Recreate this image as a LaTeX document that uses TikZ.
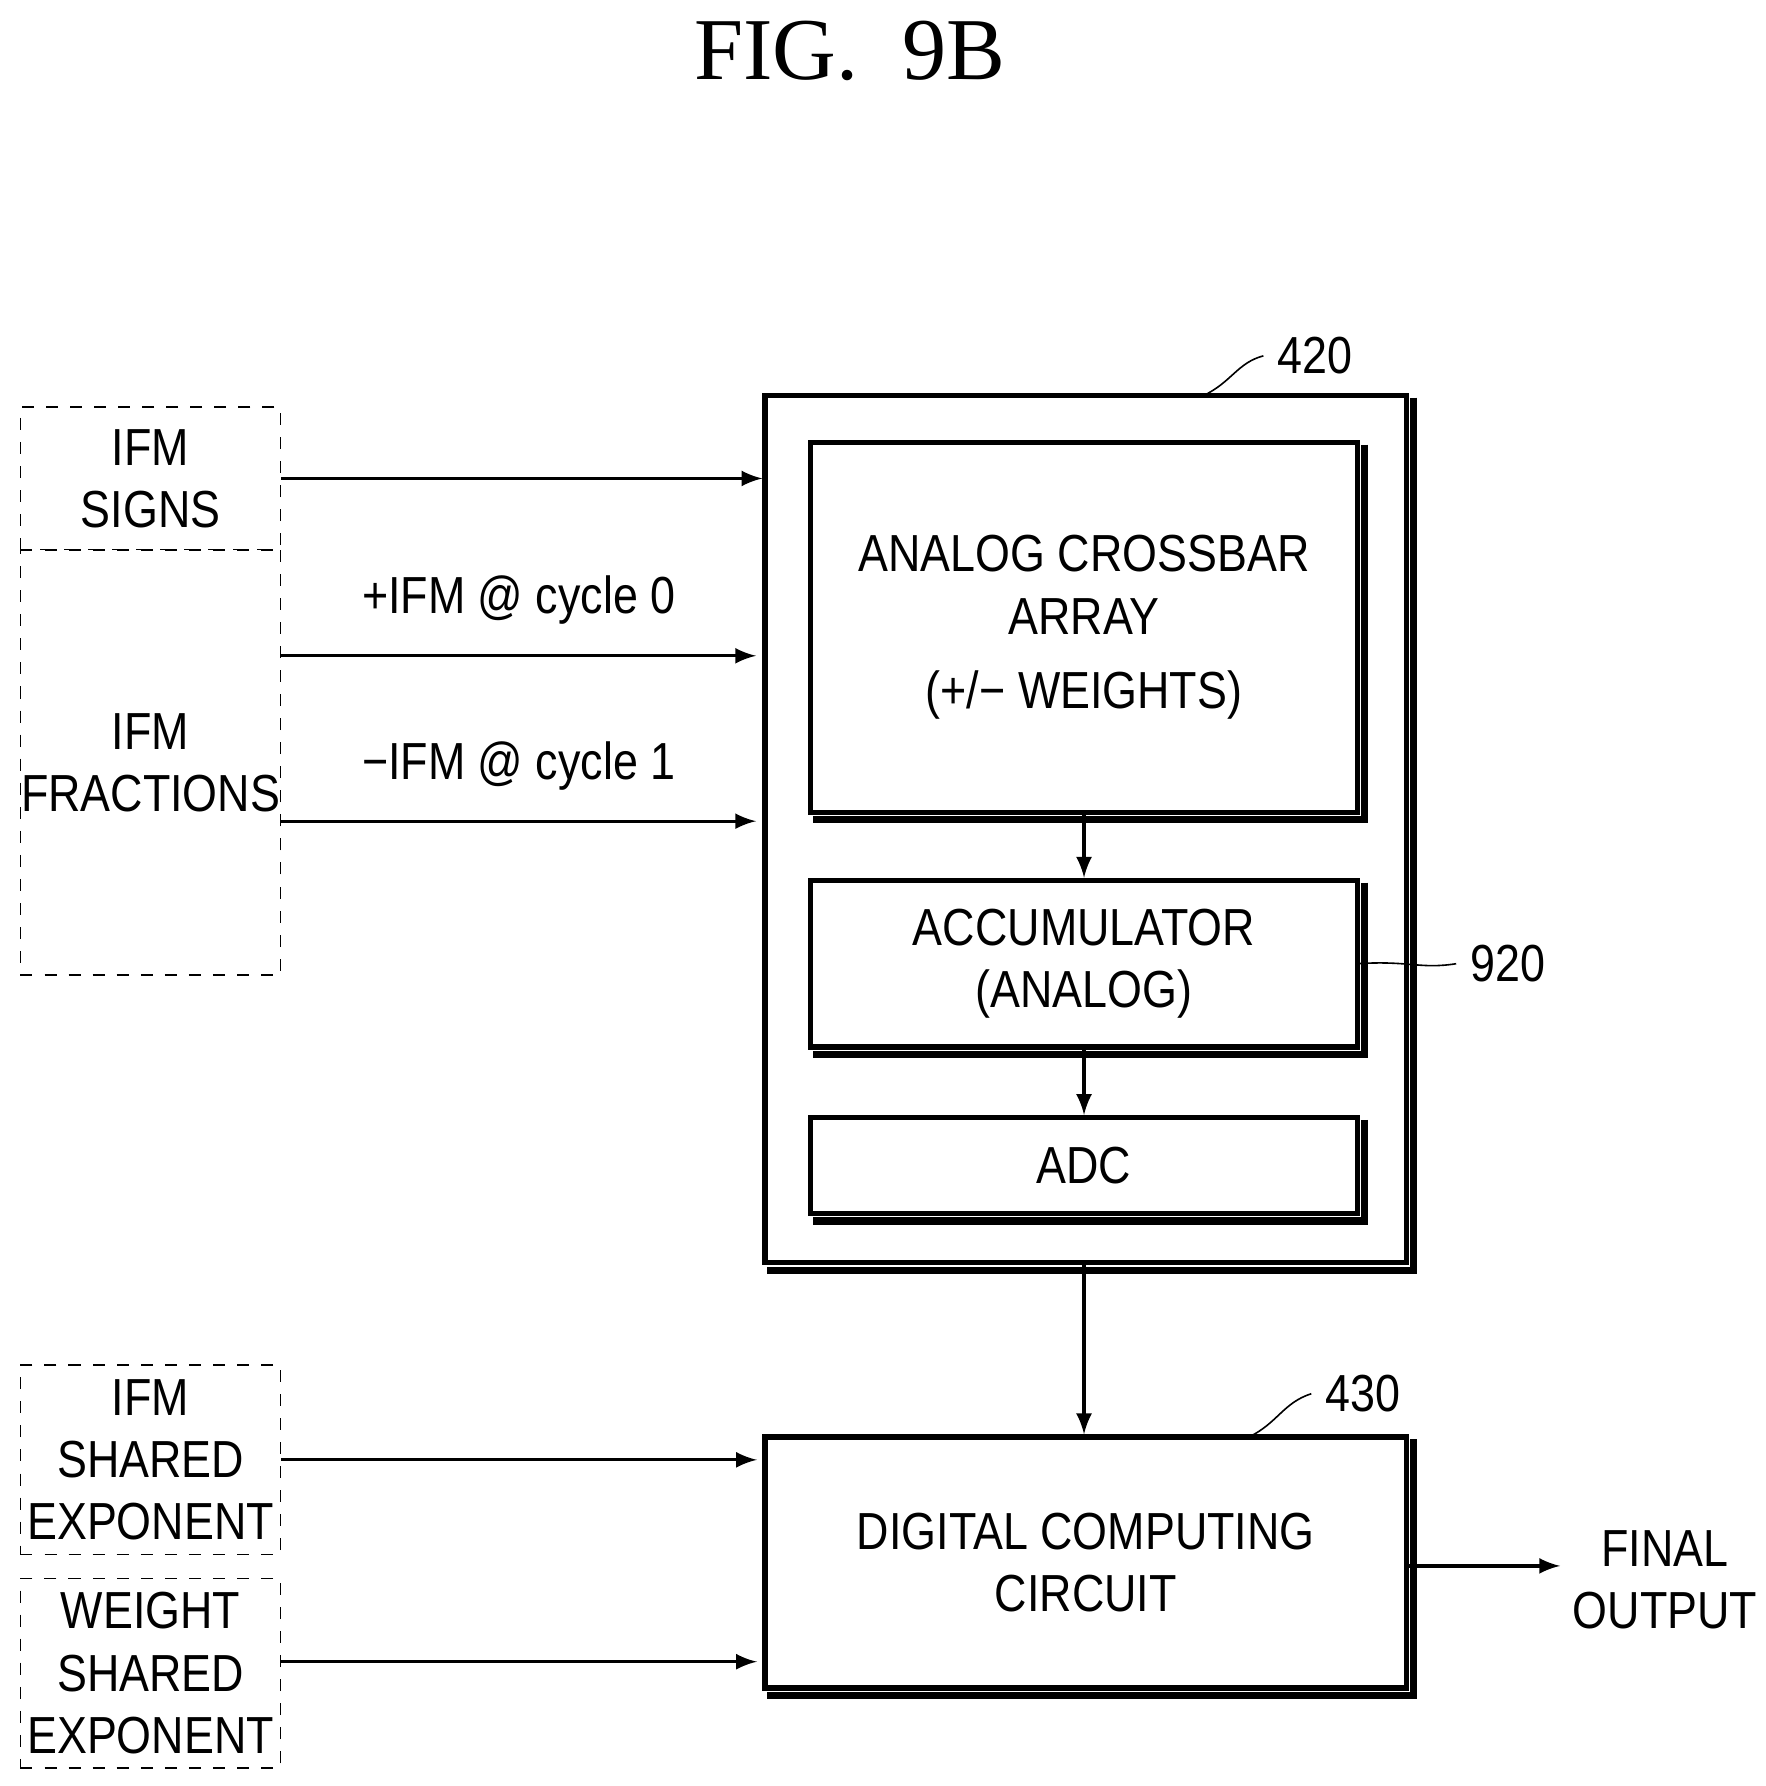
\documentclass[tikz,border=0pt]{standalone}
\usepackage{fontspec}
\setmainfont{Liberation Sans}[FakeStretch=0.86]
\newfontfamily\titlefont{Liberation Serif}
\usetikzlibrary{arrows, positioning}
\tikzstyle{source} = [rectangle, dashed, draw=black, thin, inner sep=0pt, text width=2.28cm, minimum width=2.28cm, align=center, font=\fontsize{13}{15.5}\selectfont]
\tikzstyle{block} = [rectangle, draw=black, line width=1.3pt, align=center, font=\fontsize{13}{15.5}\selectfont]
\tikzstyle{arrow} = [thick,->,>=latex]
\tikzstyle{label} = [font=\fontsize{13}{15.5}\selectfont]
\newcommand{\boxshadow}[1]{\draw[line width=1.8pt] ([xshift=1.2pt,yshift=-1.2pt]#1.north east) -- ([xshift=1.2pt,yshift=-1.2pt]#1.south east) -- ([xshift=1.2pt,yshift=-1.2pt]#1.south west);}
\begin{document}
\begin{tikzpicture}[x=0.01cm, y=-0.01cm]
        \useasboundingbox (0,0) rectangle (1548,1566);
        \node (title) at (745,45) [font=\titlefont\fontsize{22}{26}\selectfont] {FIG.\ \ 9B};

        \node (signs) [source, minimum height=1.25cm] at (132,419.5) {IFM\\SIGNS};
        \node (fractions) [source, minimum height=3.73cm] at (132,668.5) {IFM\\FRACTIONS};
        \node (ifm_exp) [source, minimum height=1.66cm] at (132,1280) {IFM\\SHARED\\EXPONENT};
        \node (w_exp) [source, minimum height=1.66cm] at (132,1467) {WEIGHT\\SHARED\\EXPONENT};

        \node (analog) [block, minimum width=5.62cm, minimum height=7.6cm] at (952,727) {};
        \node (crossbar) [block, minimum width=4.79cm, minimum height=3.24cm] at (950.5,550) {ANALOG CROSSBAR\\ARRAY\\[3pt](+/− WEIGHTS)};
        \node (accumulator) [block, minimum width=4.79cm, minimum height=1.46cm] at (950.5,845) {ACCUMULATOR\\(ANALOG)};
        \node (adc) [block, minimum width=4.79cm, minimum height=0.84cm] at (950.5,1022) {ADC};
        \node (digital) [block, minimum width=5.62cm, minimum height=2.2cm] at (952,1370) {DIGITAL COMPUTING\\CIRCUIT};
        \node (output) [label, align=center] at (1460,1385) {FINAL\\OUTPUT};
        \boxshadow{analog} \boxshadow{crossbar} \boxshadow{accumulator} \boxshadow{adc} \boxshadow{digital}

        \coordinate (in_plus) at (663,575);
        \coordinate (in_minus) at (663,720);
        \coordinate (out_end) at (1368,1373);
        \draw [arrow] (signs.east) -- (signs.east -| analog.west);
        \draw [arrow] (fractions.east |- in_plus) -- (in_plus) node[label, midway, above=4pt] {+IFM @ cycle 0};
        \draw [arrow] (fractions.east |- in_minus) -- (in_minus) node[label, midway, above=4pt] {−IFM @ cycle 1};
        \draw [arrow] (ifm_exp.east) -- ++(417,0);
        \draw [arrow] (w_exp.east |- 0,1457) -- ++(417,0);
        \draw [arrow] (crossbar) -- (accumulator);
        \draw [arrow] (accumulator) -- (adc);
        \draw [arrow] (analog.south -| adc.south) -- (digital.north -| adc.south);
        \draw [arrow] (digital.east |- out_end) -- (out_end);

        % reference numerals
        \node (n420) [label] at (1153,312) {420};
        \node (n920) [label] at (1322,845) {920};
        \node (n430) [label] at (1195,1222) {430};
        \draw (1055,347) .. controls (1080,335) and (1085,318) .. (n420.west);
        \draw (1190,845) .. controls (1235,842) and (1245,850) .. (n920.west);
        \draw (1095,1260) .. controls (1120,1248) and (1125,1230) .. (n430.west);
\end{tikzpicture}
\end{document}
